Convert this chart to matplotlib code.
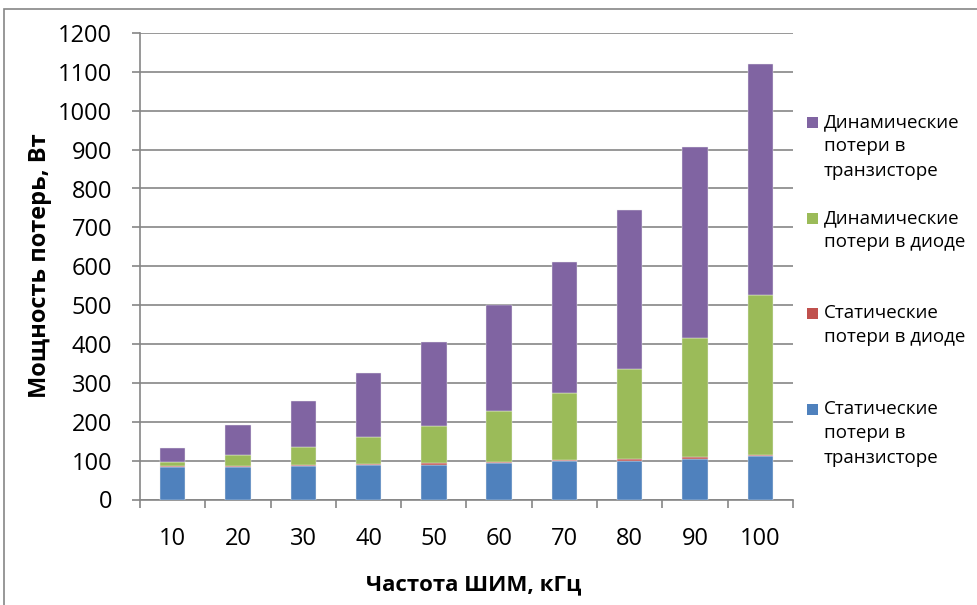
import numpy as np
import matplotlib.pyplot as plt
from matplotlib.patches import Rectangle

# PWM frequency, kHz
freq = [10, 20, 30, 40, 50, 60, 70, 80, 90, 100]

# loss components, W
stat_transistor = [83, 84, 87, 89, 90, 94, 98, 100, 105, 113]
stat_diode = [2.5, 3, 2.5, 2.5, 4, 3.5, 3, 3.5, 3.5, 1]
dyn_diode = [12, 28, 46, 68, 95, 129, 172, 231, 306, 411]
dyn_transistor = [36, 76, 117, 165, 216, 273, 337, 410, 493, 595]

series = [
    (stat_transistor, '#4F81BD', 'Статические\nпотери в\nтранзисторе'),
    (stat_diode, '#C0504D', 'Статические\nпотери в диоде'),
    (dyn_diode, '#9BBB59', 'Динамические\nпотери в диоде'),
    (dyn_transistor, '#8064A2', 'Динамические\nпотери в\nтранзисторе'),
]

plt.rcParams['font.family'] = ['Open Sans', 'DejaVu Sans']
grey = '#868686'

W, H = 978, 605
fig = plt.figure(figsize=(W / 100, H / 100), dpi=100)

# chart area frame (runs off the right and bottom edges)
fig.patches.append(Rectangle((4 / W, -0.1), 1.2, 1 - 9 / H + 0.1,
                             transform=fig.transFigure, fill=False,
                             edgecolor=grey, linewidth=1.2))

ax = fig.add_axes([140 / W, 1 - 499.5 / H, 653 / W, 466.5 / H])

x = np.arange(len(freq))
bottom = np.zeros(len(freq))
for vals, color, label in series:
    ax.bar(x, vals, width=0.39, bottom=bottom, color=color,
           edgecolor='#f0f0f0', linewidth=0.3, zorder=3)
    bottom += np.array(vals)

ax.set_xlim(-0.5, len(freq) - 0.5)
ax.set_ylim(0, 1200)
ax.set_yticks(np.arange(0, 1201, 100))
ax.yaxis.grid(True, color=grey, linewidth=1.2, zorder=0)

ax.set_xticks(x)
ax.set_xticklabels([str(f) for f in freq])
ax.set_xticks(np.arange(-0.5, len(freq)), minor=True)
ax.tick_params(axis='x', which='major', length=0, pad=20, labelsize=17)
ax.tick_params(axis='x', which='minor', length=6, color=grey, width=1.2)
ax.tick_params(axis='y', length=6, color=grey, width=1.2, pad=14, labelsize=17)

for side in ['top', 'right']:
    ax.spines[side].set_visible(False)
for side in ['left', 'bottom']:
    ax.spines[side].set_color(grey)
    ax.spines[side].set_linewidth(1.2)

fig.text(474 / W, 1 - 585 / H, 'Частота ШИМ, кГц', ha='center', va='center',
         fontsize=16, fontweight='bold')
fig.text(40 / W, 1 - 266 / H, 'Мощность потерь, Вт', ha='center', va='center',
         rotation=90, fontsize=17, fontweight='bold')

# legend, top entry first
tops = [117, 213, 308, 404]
for top, (vals, color, label) in zip(tops, series[::-1]):
    fig.patches.append(Rectangle((807 / W, 1 - (top + 11) / H), 11 / W, 11 / H,
                                 transform=fig.transFigure, facecolor=color,
                                 edgecolor='none'))
    fig.text(824 / W, 1 - (top - 4) / H, label, ha='left', va='top',
             fontsize=13.5, linespacing=1.45)

fig.savefig('out.png', dpi=100)
